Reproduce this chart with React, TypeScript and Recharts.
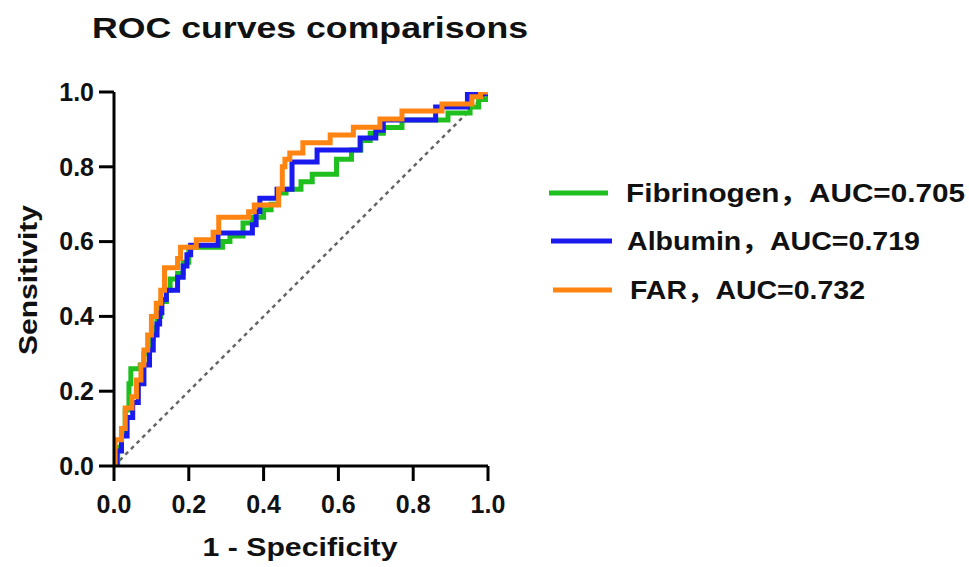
import React from "react";
import { LineChart, Line, XAxis, YAxis, Legend, Label } from "recharts";

const xTicks = [0, 0.2, 0.4, 0.6, 0.8, 1.0];
const yTicks = [0, 0.2, 0.4, 0.6, 0.8, 1.0];

const fibX = [0, 0.01, 0.02, 0.03, 0.04, 0.045, 0.07, 0.08, 0.095, 0.105, 0.115, 0.125, 0.14, 0.15, 0.17, 0.185, 0.2, 0.29, 0.31, 0.345, 0.37, 0.4, 0.42, 0.44, 0.46, 0.5, 0.53, 0.595, 0.635, 0.66, 0.685, 0.72, 0.77, 0.893, 0.952, 0.975, 1.0];
const fibY = [0, 0.05, 0.09, 0.15, 0.22, 0.26, 0.27, 0.3, 0.34, 0.37, 0.4, 0.44, 0.47, 0.5, 0.515, 0.545, 0.585, 0.6, 0.615, 0.65, 0.665, 0.685, 0.7, 0.73, 0.74, 0.76, 0.78, 0.82, 0.845, 0.87, 0.89, 0.905, 0.925, 0.944, 0.96, 0.98, 1.0];

const albX = [0, 0.008, 0.02, 0.035, 0.05, 0.065, 0.08, 0.095, 0.105, 0.115, 0.122, 0.128, 0.14, 0.17, 0.185, 0.195, 0.205, 0.278, 0.37, 0.38, 0.39, 0.436, 0.476, 0.543, 0.658, 0.7, 0.72, 0.86, 0.945, 1.0];
const albY = [0, 0.04, 0.08, 0.13, 0.17, 0.22, 0.27, 0.31, 0.35, 0.38, 0.41, 0.445, 0.47, 0.505, 0.535, 0.565, 0.59, 0.623, 0.645, 0.68, 0.716, 0.74, 0.813, 0.845, 0.877, 0.898, 0.925, 0.96, 0.995, 1.0];

const farX = [0, 0.003, 0.02, 0.03, 0.048, 0.06, 0.072, 0.08, 0.09, 0.1, 0.113, 0.125, 0.135, 0.17, 0.178, 0.22, 0.265, 0.28, 0.36, 0.375, 0.44, 0.45, 0.457, 0.47, 0.505, 0.578, 0.64, 0.711, 0.77, 0.877, 0.957, 0.98, 1.0];
const farY = [0, 0.07, 0.1, 0.155, 0.185, 0.23, 0.27, 0.31, 0.35, 0.4, 0.435, 0.47, 0.53, 0.555, 0.585, 0.605, 0.625, 0.665, 0.68, 0.698, 0.74, 0.8, 0.82, 0.837, 0.864, 0.885, 0.906, 0.928, 0.949, 0.968, 0.987, 1.0, 1.0];

const refX = [0, 1];
const refY = [0, 1];

const seriesNames = ["Fibrinogen，AUC=0.705", "Albumin，AUC=0.719", "FAR，AUC=0.732"];
const seriesColors = ["#1fbf1f", "#1a1aee", "#ff8412"];

const toPts = (xs: number[], ys: number[]) => xs.map((x, i) => ({ x, y: ys[i] }));

const FONT = "Arial, 'Liberation Sans', 'Noto Sans CJK SC', sans-serif";

const LegendContent = () => {
  const rows = [
    { x1: 9, x2: 68, ly: 23, tx: 86, ty: 32, tl: 339 },
    { x1: 11, x2: 72, ly: 71, tx: 87, ty: 80, tl: 293 },
    { x1: 13, x2: 72, ly: 120, tx: 90, ty: 129, tl: 235 },
  ];
  return (
    <svg width={429} height={150} style={{ display: "block" }}>
      {rows.map((r, i) => (
        <g key={i}>
          <line x1={r.x1} x2={r.x2} y1={r.ly} y2={r.ly} stroke={seriesColors[i]} strokeWidth={5} />
          <text x={r.tx} y={r.ty} fontFamily={FONT} fontWeight="bold" fontSize={25} fill="#111" textLength={r.tl} lengthAdjust="spacingAndGlyphs">
            {seriesNames[i]}
          </text>
        </g>
      ))}
    </svg>
  );
};

const tickStyle = { fontSize: 25, fontWeight: "bold" as const, fill: "#111", fontFamily: FONT };

export default function App() {
  return (
    <div style={{ position: "absolute", left: 0, top: 0, width: 969, height: 567, background: "#fff" }}>
      <LineChart width={969} height={567} margin={{ top: 92, right: 481, left: 54, bottom: 41 }}>
        <XAxis
          type="number"
          dataKey="x"
          domain={[0, 1]}
          ticks={xTicks}
          tickFormatter={(v: number) => v.toFixed(1)}
          axisLine={{ stroke: "#000", strokeWidth: 3 }}
          tickLine={{ stroke: "#000", strokeWidth: 3 }}
          tickSize={15}
          tickMargin={14}
          tick={tickStyle}
          height={60}
          allowDataOverflow
        >
          <Label
            content={() => (
              <text x={300} y={556} textAnchor="middle" fontFamily={FONT} fontWeight="bold" fontSize={25} fill="#111" textLength={195} lengthAdjust="spacingAndGlyphs">
                1 - Specificity
              </text>
            )}
          />
        </XAxis>
        <YAxis
          type="number"
          dataKey="y"
          domain={[0, 1]}
          ticks={yTicks}
          tickFormatter={(v: number) => v.toFixed(1)}
          axisLine={{ stroke: "#000", strokeWidth: 3 }}
          tickLine={{ stroke: "#000", strokeWidth: 3 }}
          tickSize={15}
          tickMargin={5}
          tick={tickStyle}
          width={60}
          allowDataOverflow
        >
          <Label
            content={() => (
              <text x={37} y={280} transform="rotate(-90 37 280)" textAnchor="middle" fontFamily={FONT} fontWeight="bold" fontSize={25} fill="#111" textLength={150} lengthAdjust="spacingAndGlyphs">
                Sensitivity
              </text>
            )}
          />
        </YAxis>
        <Line data={toPts(refX, refY)} dataKey="y" type="linear" stroke="#666" strokeWidth={2.5} strokeDasharray="4 4" dot={false} isAnimationActive={false} legendType="none" />
        <Line data={toPts(fibX, fibY)} dataKey="y" name={seriesNames[0]} type="stepAfter" stroke={seriesColors[0]} strokeWidth={5} dot={false} isAnimationActive={false} />
        <Line data={toPts(albX, albY)} dataKey="y" name={seriesNames[1]} type="stepAfter" stroke={seriesColors[1]} strokeWidth={5} dot={false} isAnimationActive={false} />
        <Line data={toPts(farX, farY)} dataKey="y" name={seriesNames[2]} type="stepAfter" stroke={seriesColors[2]} strokeWidth={5} dot={false} isAnimationActive={false} />
        <Legend
          layout="horizontal"
          align="center"
          verticalAlign="middle"
          content={() => <LegendContent />}
          wrapperStyle={{ position: "absolute", left: 540, top: 170, width: 429, height: 150 }}
        />
      </LineChart>
      <svg width={969} height={60} style={{ position: "absolute", left: 0, top: 0 }}>
        <text x={92} y={38} fontFamily={FONT} fontWeight="bold" fontSize={29} fill="#111" textLength={436} lengthAdjust="spacingAndGlyphs">
          ROC curves comparisons
        </text>
      </svg>
    </div>
  );
}
